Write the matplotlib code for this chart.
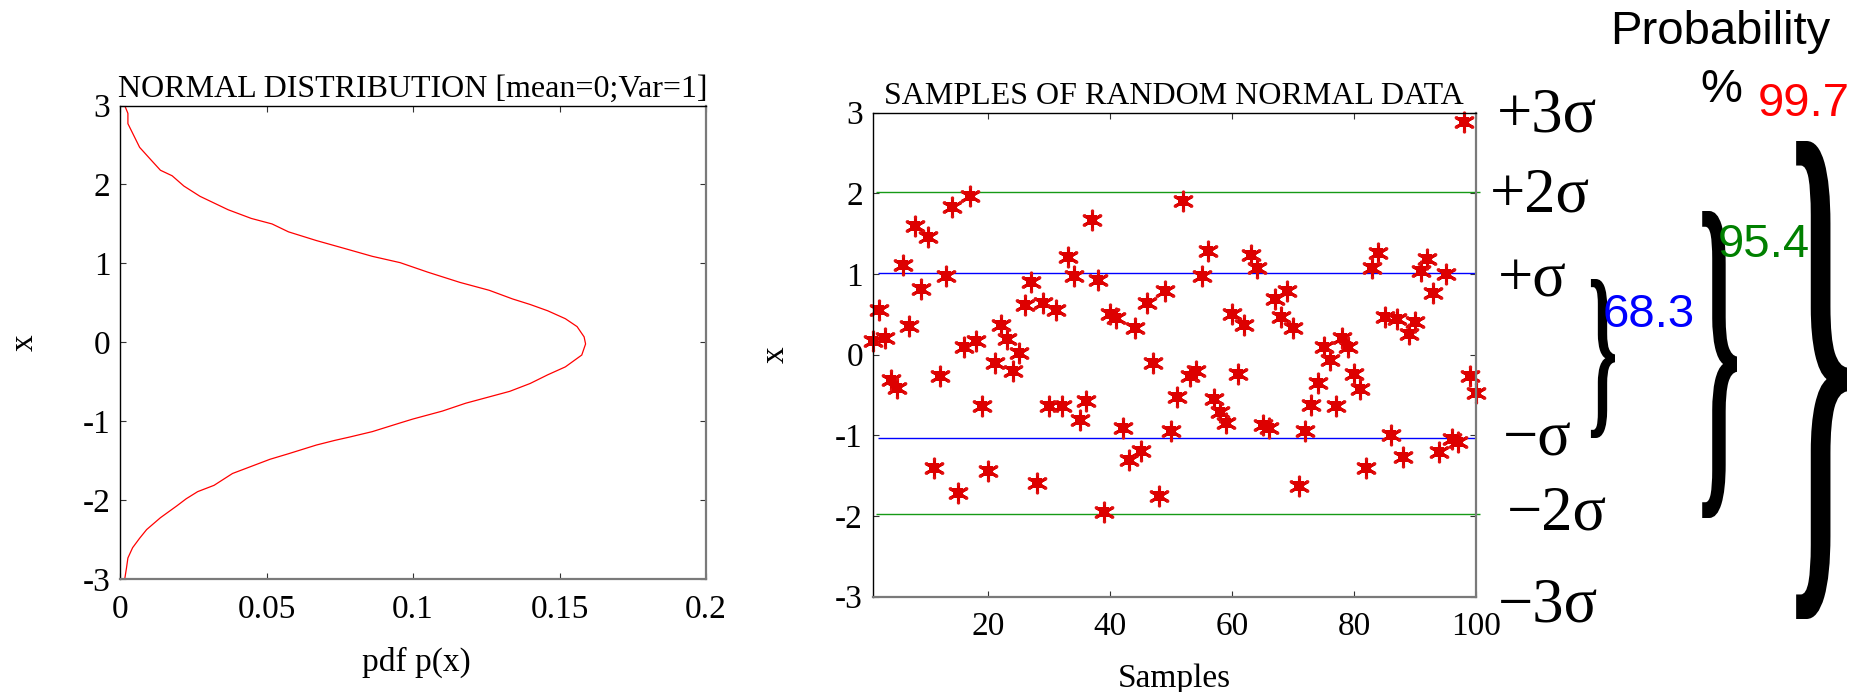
import numpy as np
import matplotlib
matplotlib.use("Agg")
import matplotlib.pyplot as plt
from matplotlib.textpath import TextPath
from matplotlib.font_manager import FontProperties
from matplotlib.patches import PathPatch
from matplotlib.path import Path

plt.rcParams['font.family'] = ['Liberation Serif', 'DejaVu Serif']
plt.rcParams['axes.unicode_minus'] = False

# pdf curve (x on vertical axis, p(x) horizontal)
pdf_x = [3.00, 2.90, 2.77, 2.47, 2.31, 2.18, 2.11, 1.98, 1.85, 1.68,
         1.57, 1.50, 1.40, 1.29, 1.19, 1.09, 1.01, 0.89, 0.76, 0.66,
         0.55, 0.48, 0.40, 0.30, 0.20, 0.07, -0.02, -0.16, -0.31, -0.41,
         -0.52, -0.62, -0.67, -0.77, -0.87, -0.97, -1.02, -1.13, -1.20, -1.24,
         -1.30, -1.41, -1.48, -1.66, -1.81, -1.89, -1.98, -2.07, -2.22, -2.37,
         -2.48, -2.60, -2.73, -2.86, -3.00]
pdf_p = [0.0016, 0.0027, 0.0027, 0.0067, 0.0106, 0.0138, 0.0178, 0.0218, 0.0273, 0.0369,
         0.0448, 0.0519, 0.0575, 0.067, 0.0766, 0.0861, 0.0956, 0.105, 0.116, 0.126,
         0.134, 0.140, 0.146, 0.152, 0.156, 0.1584, 0.1589, 0.1576, 0.152, 0.146,
         0.140, 0.133, 0.128, 0.118, 0.110, 0.100, 0.0956, 0.0861, 0.0782, 0.0734,
         0.067, 0.0575, 0.0512, 0.0384, 0.0321, 0.0265, 0.0226, 0.0194, 0.0138, 0.0091,
         0.0067, 0.0043, 0.0027, 0.0022, 0.0016]
pdf_xticks = [0, 0.05, 0.1, 0.15, 0.2]
pdf_xticklabels = ['0', '0.05', '0.1', '0.15', '0.2']
x_ticks = [-3, -2, -1, 0, 1, 2, 3]

# random normal samples (right panel)
samples = np.arange(1, 101)
values = [0.17, 0.55, 0.21, -0.31, -0.41, 1.11, 0.36, 1.60, 0.82, 1.46,
          -1.41, -0.27, 0.97, 1.83, -1.72, 0.09, 1.97, 0.17, -0.64, -1.44,
          -0.10, 0.37, 0.19, -0.20, 0.02, 0.62, 0.90, -1.59, 0.64, -0.64,
          0.55, -0.64, 1.21, 0.97, -0.81, -0.58, 1.67, 0.93, -1.95, 0.51,
          0.46, -0.91, -1.31, 0.33, -1.19, 0.64, -0.10, -1.75, 0.79, -0.94,
          -0.52, 1.90, -0.27, -0.20, 0.97, 1.29, -0.55, -0.71, -0.85, 0.51,
          -0.24, 0.37, 1.24, 1.08, -0.87, -0.91, 0.69, 0.47, 0.79, 0.33,
          -1.63, -0.94, -0.62, -0.35, 0.09, -0.07, -0.64, 0.21, 0.10, -0.24,
          -0.42, -1.41, 1.07, 1.26, 0.47, -1.00, 0.44, -1.27, 0.26, 0.40,
          1.04, 1.19, 0.76, -1.20, 1.00, -1.05, -1.08, 2.88, -0.26, -0.48]
sample_ticks = [20, 40, 60, 80, 100]
two_sigma = [2.02, -1.97]
one_sigma = [1.01, -1.03]

sigma_labels = ['+3σ', '+2σ', '+σ', '−σ', '−2σ', '−3σ']
pct_labels = ['68.3', '95.4', '99.7']
pct_colors = ['blue', 'green', 'red']

W, H = 1864, 692
fig = plt.figure(figsize=(W / 100, H / 100), dpi=100)


def style(ax):
    ax.tick_params(direction='in', top=True, right=True, length=4.5, width=0.8,
                   labelsize=24, color='#333333')
    ax.tick_params(axis='x', pad=11)
    ax.tick_params(axis='y', pad=7)
    for s in ['top', 'left']:
        ax.spines[s].set_color('black')
        ax.spines[s].set_linewidth(1.0)
    for s in ['bottom', 'right']:
        ax.spines[s].set_color('#7a7a7a')
        ax.spines[s].set_linewidth(1.6)


# left panel: pdf
ax1 = fig.add_axes([120 / W, 1 - 579.3 / H, 586 / W, 473.8 / H])
ax1.plot(pdf_p, pdf_x, color='red', lw=0.9)
ax1.set_xlim(0, 0.2)
ax1.set_ylim(-3, 3)
ax1.set_xticks(pdf_xticks)
ax1.set_xticklabels(pdf_xticklabels)
ax1.set_yticks(x_ticks)
style(ax1)
ax1.set_title('NORMAL DISTRIBUTION [mean=0;Var=1]', fontsize=23, pad=6)
ax1.set_xlabel('pdf p(x)', fontsize=24)
ax1.xaxis.set_label_coords(0.505, -0.142)
ax1.set_ylabel('x', fontsize=24)
ax1.yaxis.set_label_coords(-0.137, 0.5)

# marker: asterisk + square body + dots at the arm ends
ang = np.deg2rad(90 + 60 * np.arange(6))
dots = Path.make_compound_path(*[Path.circle((0.85 * np.cos(a), 0.85 * np.sin(a)), 0.15)
                                 for a in ang])

# right panel: samples
ax2 = fig.add_axes([872.7 / W, 1 - 596.7 / H, 603.3 / W, 484 / H])
ax2.hlines(two_sigma, 1.6, 100.6, colors='#169a16', lw=1.0, clip_on=False)
ax2.hlines(one_sigma, 1.9, 100, colors='blue', lw=1.0)
ax2.plot(samples, values, ls='none', marker=(6, 2, 0), ms=13.5, mew=2.2,
         color='#dd0000', clip_on=False)
ax2.plot(samples, values, ls='none', marker=dots, ms=16, mew=0,
         color='#e01010', clip_on=False)
ax2.plot(samples, values, ls='none', marker='s', ms=7.5, mew=0, color='#dd0000',
         clip_on=False)
ax2.set_xlim(1, 100)
ax2.set_ylim(-3, 3)
ax2.set_xticks(sample_ticks)
ax2.set_yticks(x_ticks)
style(ax2)
ax2.set_title('SAMPLES OF RANDOM NORMAL DATA', fontsize=23, pad=6)
ax2.set_xlabel('Samples', fontsize=24)
ax2.xaxis.set_label_coords(0.5, -0.137)
ax2.set_ylabel('x', fontsize=24)
ax2.yaxis.set_label_coords(-0.1354, 0.5)

# overlay in pixel coords for the sigma annotations
ov = fig.add_axes([0, 0, 1, 1])
ov.set_xlim(0, W)
ov.set_ylim(H, 0)
ov.axis('off')

sig_x = [1497, 1490, 1498, 1503, 1507, 1498]
sig_base = [132, 211.5, 296.5, 455.8, 530, 621.7]
for lab, sx, sy in zip(sigma_labels, sig_x, sig_base):
    ov.text(sx, sy, lab, fontsize=45, ha='left', va='baseline',
            family='Liberation Serif')

sans = 'Liberation Sans'
pct_x = [1603, 1718, 1758]
pct_base = [327, 257, 116]
for lab, c, px, py in zip(pct_labels, pct_colors, pct_x, pct_base):
    ov.text(px, py, lab, fontsize=34, color=c, ha='left', va='baseline', family=sans)
ov.text(1700, 102, '%', fontsize=34, ha='left', va='baseline', family=sans)
ov.text(1610, 44, 'Probability', fontsize=34, ha='left', va='baseline', family=sans)

# braces: stretched bold "}" glyph
tp = TextPath((0, 0), '}', size=100,
              prop=FontProperties(family='Liberation Serif', weight='bold'))
v = tp.vertices.copy()
vmin = v.min(axis=0)
vmax = v.max(axis=0)
unit = (v - vmin) / (vmax - vmin)
brace_boxes = [(1588, 279, 27, 159), (1698, 211, 39, 307), (1790, 141, 57, 478)]
for bx, by, bw, bh in brace_boxes:
    verts = np.column_stack([bx + unit[:, 0] * bw, by + (1 - unit[:, 1]) * bh])
    ov.add_patch(PathPatch(Path(verts, tp.codes), color='black', lw=0))

fig.savefig('out.png', dpi=100)
